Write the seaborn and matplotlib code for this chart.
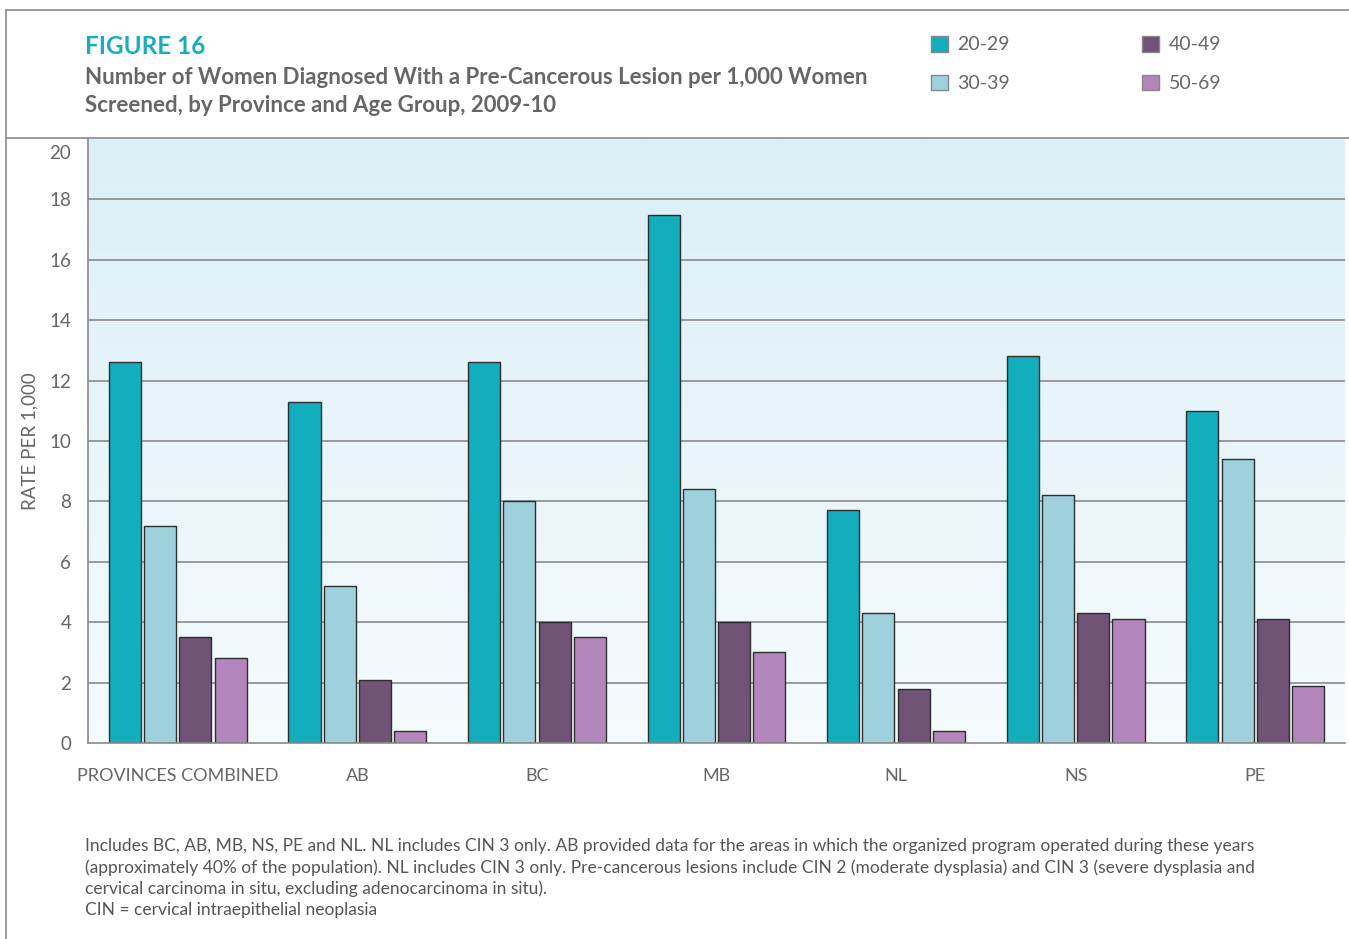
import numpy as np
import pandas as pd
import matplotlib
matplotlib.use("Agg")
import matplotlib.pyplot as plt
import matplotlib.transforms as mtransforms
from matplotlib.colors import LinearSegmentedColormap
from matplotlib.patches import Patch
from matplotlib.lines import Line2D
import seaborn as sns

provinces = ["PROVINCES COMBINED", "AB", "BC", "MB", "NL", "NS", "PE"]
age_groups = ["20-29", "30-39", "40-49", "50-69"]
rate_20_29 = [12.6, 11.3, 12.6, 17.5, 7.7, 12.8, 11.0]
rate_30_39 = [7.2, 5.2, 8.0, 8.4, 4.3, 8.2, 9.4]
rate_40_49 = [3.5, 2.1, 4.0, 4.0, 1.8, 4.3, 4.1]
rate_50_69 = [2.8, 0.4, 3.5, 3.0, 0.4, 4.1, 1.9]
y_ticks = [0, 2, 4, 6, 8, 10, 12, 14, 16, 18, 20]
colors = ["#12aebd", "#9ed1db", "#6f5276", "#b286ba"]

rows = []
for series, name in zip([rate_20_29, rate_30_39, rate_40_49, rate_50_69], age_groups):
    for prov, v in zip(provinces, series):
        rows.append({"Province": prov, "Age": name, "Rate": v})
df = pd.DataFrame(rows)

sns.set_theme(style="white")
plt.rcParams["font.family"] = ["Lato", "DejaVu Sans"]

W, H = 1349, 939
fig = plt.figure(figsize=(W / 100, H / 100), dpi=100)
ax = fig.add_axes([88 / W, 1 - 743 / H, 1257 / W, (743 - 139) / H])

sns.barplot(data=df, x="Province", y="Rate", hue="Age", order=provinces,
            hue_order=age_groups, palette=colors, saturation=1, width=0.785, gap=0.09,
            edgecolor="#2e2e2e", linewidth=1.0, ax=ax, legend=False, zorder=3)

ax.set_xlim(-0.5, 6.5)
ax.set_ylim(0, 20)

# gradient background
cmap = LinearSegmentedColormap.from_list("bg", ["#f6fbfd", "#dbeff7"])
grad = np.linspace(0, 1, 256).reshape(-1, 1)
ax.imshow(grad, extent=[-0.5, 6.5, 0, 20], origin="lower", aspect="auto",
          cmap=cmap, zorder=0)

ax.set_yticks(y_ticks)
ax.set_yticklabels([str(t) for t in y_ticks])
for t in y_ticks[1:-1]:
    ax.axhline(t, color="#8a8a8a", lw=1.2, zorder=1)

ax.tick_params(axis="both", length=0, colors="#666666")
ax.tick_params(axis="y", labelsize=13.5, pad=12)
ax.tick_params(axis="x", labelsize=13, pad=18)
# top tick label sits slightly below the top edge, as in the original
top_lbl = ax.get_yticklabels()[-1]
top_lbl.set_transform(top_lbl.get_transform() +
                      mtransforms.ScaledTranslation(0, -13 / 100, fig.dpi_scale_trans))
ax.set_xlabel("")
ax.set_ylabel("RATE PER 1,000", fontsize=13.5, color="#666666", labelpad=8)
for s in ["top", "right"]:
    ax.spines[s].set_visible(False)
for s in ["left", "bottom"]:
    ax.spines[s].set_color("#8a8a8a")
    ax.spines[s].set_linewidth(1.2)
    ax.spines[s].set_zorder(4)

# frame lines
fig.add_artist(Line2D([6 / W, 6 / W], [0, 1 - 10 / H], color="#8a8a8a", lw=1.2))
fig.add_artist(Line2D([6 / W, 1], [1 - 10 / H, 1 - 10 / H], color="#8a8a8a", lw=1.2))
fig.add_artist(Line2D([6 / W, 1], [1 - 138 / H, 1 - 138 / H], color="#8a8a8a", lw=1.2))

fig.text(85 / W, 1 - 47 / H, "FIGURE 16", color="#1aabbc", fontsize=17.5,
         fontweight="bold", va="center", ha="left")
fig.text(85 / W, 1 - 78 / H,
         "Number of Women Diagnosed With a Pre-Cancerous Lesion per 1,000 Women",
         color="#666666", fontsize=16, fontweight="bold", va="center", ha="left")
fig.text(85 / W, 1 - 106 / H, "Screened, by Province and Age Group, 2009-10",
         color="#666666", fontsize=16, fontweight="bold", va="center", ha="left")

handles = [Patch(facecolor=c, edgecolor="#888888", label=l) for c, l in zip(colors, age_groups)]
leg = fig.legend(handles=handles, loc="upper left", bbox_to_anchor=(931 / W, 1 - 36 / H),
                 ncol=2, frameon=False, fontsize=14, handlelength=0.85, handleheight=0.85,
                 handletextpad=0.5, columnspacing=6.8, labelspacing=1.1,
                 labelcolor="#666666", borderaxespad=0, borderpad=0)

notes = [
    "Includes BC, AB, MB, NS, PE and NL. NL includes CIN 3 only. AB provided data for the areas in which the organized program operated during these years",
    "(approximately 40% of the population). NL includes CIN 3 only. Pre-cancerous lesions include CIN 2 (moderate dysplasia) and CIN 3 (severe dysplasia and",
    "cervical carcinoma in situ, excluding adenocarcinoma in situ).",
    "CIN = cervical intraepithelial neoplasia",
]
for i, line in enumerate(notes):
    fig.text(85 / W, 1 - (846 + i * 21.5) / H, line, color="#555555", fontsize=12.5,
             va="center", ha="left")

fig.savefig("out.png", dpi=100)
